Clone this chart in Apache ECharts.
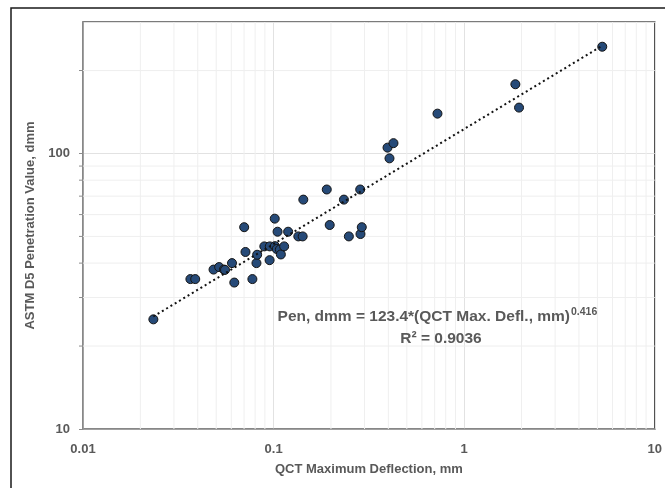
<!DOCTYPE html>
<html><head><meta charset="utf-8">
<script src="https://cdn.jsdelivr.net/npm/echarts@6/dist/echarts.min.js"></script>
<style>html,body{margin:0;padding:0;background:#fff}#c{width:665px;height:488px}</style>
</head><body><div id="c"></div>
<script>
// ---- data ----
const qctDeflection = [0.0234,0.0366,0.0388,0.0484,0.0518,0.0549,0.0556,0.0605,0.0622,0.0701,0.0712,0.0774,0.0813,0.0820,0.0894,0.0955,0.0953,0.1014,0.1016,0.1039,0.1049,0.1079,0.1092,0.1136,0.1192,0.1348,0.1421,0.1432,0.1901,0.1970,0.2339,0.2483,0.2847,0.2857,0.2902,0.3961,0.4256,0.4056,0.7242,1.856,1.940,5.302];
const penetration   = [25.0,35.0,35.0,37.9,38.7,37.9,37.8,40.0,34.0,54.0,43.9,35.0,40.0,42.9,46.0,46.0,41.0,58.0,46.1,45.0,52.0,44.8,43.0,46.0,52.0,50.0,50.0,68.0,74.0,55.0,68.0,50.0,74.0,51.0,54.0,105,109,96,139.5,178.3,146.7,244];
const trendX = [0.0234, 5.30];
const trendY = [25.6, 246];
const xMinorGrid = [0.02,0.03,0.04,0.05,0.06,0.07,0.08,0.09,0.2,0.3,0.4,0.5,0.6,0.7,0.8,0.9,2,3,4,5,6,7,8,9];
const yMinorGrid = [20,30,40,50,60,70,80,90,200];
const xRange = [0.01, 10];
const yRange = [10, 300];
const xAxisTitle = 'QCT Maximum Deflection, mm';
const yAxisTitle = 'ASTM D5 Penetration Value, dmm';
const eqMain = 'Pen, dmm = 123.4*(QCT Max. Defl., mm)';
const eqExp = '0.416';
const r2Text = 'R² = 0.9036';

const FONT = 'Liberation Sans';
const TXT = '#595959';
const chart = echarts.init(document.getElementById('c'), null, {renderer: 'canvas'});

const isPow10 = v => Math.abs(Math.log10(v) - Math.round(Math.log10(v))) < 1e-6;

chart.setOption({
  animation: false,
  backgroundColor: '#fff',
  grid: {left: 83, right: 5, top: 22, bottom: 59, show: true, borderColor: '#505050', borderWidth: 1.5},
  graphic: [
    {type: 'rect', shape: {x: 11, y: 8, width: 700, height: 600}, style: {fill: 'none', stroke: '#1a1a1a', lineWidth: 1.5}, z: 0, silent: true},
    {type: 'text', x: 570, y: 317, style: {text: eqMain, font: 'bold 15.5px "' + FONT + '"', fill: TXT, textAlign: 'right', textVerticalAlign: 'middle'}, z: 10},
    {type: 'text', x: 571, y: 312, style: {text: eqExp, font: 'bold 10.5px "' + FONT + '"', fill: TXT, textAlign: 'left', textVerticalAlign: 'middle'}, z: 10},
    {type: 'text', x: 441, y: 339, style: {text: r2Text, font: 'bold 15.5px "' + FONT + '"', fill: TXT, textAlign: 'center', textVerticalAlign: 'middle'}, z: 10}
  ],
  xAxis: {
    type: 'log', logBase: 10, min: xRange[0], max: xRange[1], interval: 1,
    name: xAxisTitle, nameLocation: 'middle', nameGap: 34,
    nameTextStyle: {fontFamily: FONT, fontWeight: 'bold', fontSize: 13, color: TXT},
    axisLine: {show: true, lineStyle: {color: '#8c8c8c', width: 1.5}},
    axisTick: {show: false},
    axisLabel: {fontFamily: FONT, fontWeight: 'bold', fontSize: 13, color: TXT, margin: 14,
      formatter: v => isPow10(v) ? String(+v.toPrecision(6)) : ''},
    splitLine: {show: true, lineStyle: {color: '#e2e2e2', width: 1}}
  },
  yAxis: {
    type: 'log', logBase: 10, min: yRange[0], max: yRange[1], interval: 1,
    name: yAxisTitle, nameLocation: 'middle', nameGap: 43, nameRotate: 90,
    nameTextStyle: {fontFamily: FONT, fontWeight: 'bold', fontSize: 13, color: TXT},
    axisLine: {show: true, lineStyle: {color: '#8c8c8c', width: 1.5}},
    axisTick: {show: true, inside: false, length: 4, lineStyle: {color: '#8c8c8c'}},
    axisLabel: {fontFamily: FONT, fontWeight: 'bold', fontSize: 13, color: TXT, margin: 13,
      showMaxLabel: false,
      formatter: v => isPow10(v) ? String(+v.toPrecision(6)) : ''},
    splitLine: {show: true, lineStyle: {color: '#e2e2e2', width: 1}}
  },
  series: [
    {
      type: 'custom', z: 1, silent: true,
      data: xMinorGrid.map(v => [v, yRange[0]]),
      renderItem: (params, api) => {
        const cs = params.coordSys;
        const x = api.coord([api.value(0), api.value(1)])[0];
        return {type: 'line', shape: {x1: x, y1: cs.y, x2: x, y2: cs.y + cs.height},
          style: {stroke: '#efefef', lineWidth: 1}};
      }
    },
    {
      type: 'custom', z: 1, silent: true,
      data: yMinorGrid.map(v => [xRange[0], v]),
      renderItem: (params, api) => {
        const cs = params.coordSys;
        const y = api.coord([api.value(0), api.value(1)])[1];
        return {type: 'group', children: [
          {type: 'line', shape: {x1: cs.x, y1: y, x2: cs.x + cs.width, y2: y}, style: {stroke: '#efefef', lineWidth: 1}},
          {type: 'line', shape: {x1: cs.x - 4, y1: y, x2: cs.x, y2: y}, style: {stroke: '#8c8c8c', lineWidth: 1}}
        ]};
      }
    },
    {
      type: 'scatter', z: 3,
      data: qctDeflection.map((x, i) => [x, penetration[i]]),
      symbol: 'circle', symbolSize: 9,
      itemStyle: {color: '#264a78', borderColor: '#141414', borderWidth: 1, opacity: 1}
    },
    {
      type: 'line', z: 4, silent: true,
      data: trendX.map((x, i) => [x, trendY[i]]),
      showSymbol: false, symbol: 'none',
      lineStyle: {color: '#111', width: 2, type: [2, 3]}
    }
  ]
});
</script></body></html>
